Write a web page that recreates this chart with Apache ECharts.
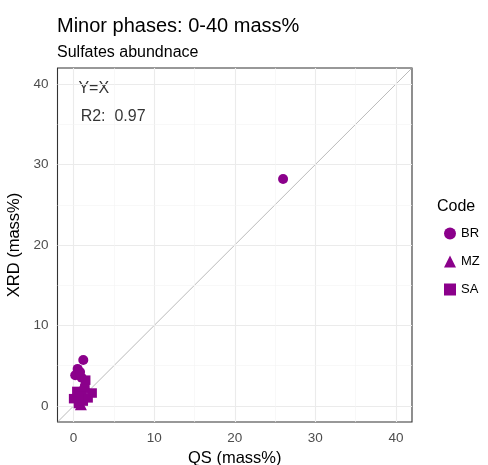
<!DOCTYPE html>
<html>
<head>
<meta charset="utf-8">
<script src="https://cdn.jsdelivr.net/npm/echarts@6/dist/echarts.min.js"></script>
<style>
  html, body { margin: 0; padding: 0; background: #ffffff; }
  #chart { width: 488px; height: 465px; }
</style>
</head>
<body>
<div id="chart"></div>
<script>
// Sulfate abundance, quantitative method (QS) vs XRD, both in mass%
const codes = ['BR', 'MZ', 'SA'];

const brQS  = [26.0, 1.2, 0.5, 0.2, 1.0, 0.8];
const brXRD = [28.2, 5.7, 4.6, 3.8, 3.5, 4.2];

const mzQS  = [1.3, 0.6, 0.9];
const mzXRD = [2.8, 1.6, 0.2];

const saQS  = [1.4, 2.3, 0.0, 0.6, 1.2, 0.4, 1.0, 1.8, 1.5];
const saXRD = [2.2, 1.6, 0.9, 0.3, 0.6, 1.8, 1.2, 1.0, 3.2];

const majorTicks = [0, 10, 20, 30, 40];
const minorTicks = [5, 15, 25, 35];
const identityLine = [-2, 42];

const fitLabel = 'Y=X';
const r2Label = 'R2:  0.97';

const purple = '#8B008B';
const font = '"Liberation Sans", Arial, sans-serif';

function pairs(xs, ys) { return xs.map((x, i) => [x, ys[i]]); }

const gridLines = [];
majorTicks.forEach(v => {
  gridLines.push({ xAxis: v, lineStyle: { color: '#EBEBEB', width: 1.1, type: 'solid' } });
  gridLines.push({ yAxis: v, lineStyle: { color: '#EBEBEB', width: 1.1, type: 'solid' } });
});
minorTicks.forEach(v => {
  gridLines.push({ xAxis: v, lineStyle: { color: '#F3F3F3', width: 0.6, type: 'solid' } });
  gridLines.push({ yAxis: v, lineStyle: { color: '#F3F3F3', width: 0.6, type: 'solid' } });
});

function valueAxis(name, gap, rot) {
  return {
    type: 'value',
    min: -2, max: 42,
    name: name,
    nameLocation: 'middle',
    nameGap: gap,
    nameRotate: rot,
    nameTextStyle: { fontFamily: font, fontSize: 16.5, color: '#000' },
    axisLine: { show: false },
    axisTick: { show: true, customValues: majorTicks, length: 4, lineStyle: { color: '#333333', width: 1 } },
    axisLabel: { customValues: majorTicks, fontFamily: font, fontSize: 13.5, color: '#4D4D4D', margin: 9 },
    splitLine: { show: false }
  };
}

const chart = echarts.init(document.getElementById('chart'), null, { renderer: 'canvas' });

chart.setOption({
  animation: false,
  backgroundColor: '#ffffff',
  title: [
    { text: 'Minor phases: 0-40 mass%', left: 57, top: 16, padding: 0,
      textStyle: { fontFamily: font, fontSize: 20, fontWeight: 'normal', color: '#000' } },
    { text: 'Sulfates abundnace', left: 57, top: 45, padding: 0,
      textStyle: { fontFamily: font, fontSize: 16, fontWeight: 'normal', color: '#000' } },
    { text: 'Code', left: 437, top: 199, padding: 0,
      textStyle: { fontFamily: font, fontSize: 16, fontWeight: 'normal', color: '#000' } }
  ],
  grid: {
    left: 57.5, right: 76, top: 68, bottom: 43,
    outerBoundsMode: 'none',
    show: true, borderColor: '#333333', borderWidth: 1.1, backgroundColor: '#ffffff'
  },
  legend: {
    data: codes,
    orient: 'vertical',
    left: 444, top: 227, padding: 0,
    itemWidth: 12, itemHeight: 12,
    itemGap: 15,
    textStyle: { fontFamily: font, fontSize: 13, color: '#000' }
  },
  xAxis: valueAxis('QS (mass%)', 24.5, 0),
  yAxis: valueAxis('XRD (mass%)', 29, 90),
  series: [
    {
      name: 'grid', type: 'line', data: [], silent: true, z: 1,
      markLine: { silent: true, symbol: 'none', label: { show: false }, animation: false, data: gridLines }
    },
    {
      name: 'identity', type: 'line', silent: true, z: 2,
      data: pairs(identityLine, identityLine),
      showSymbol: false, symbol: 'none',
      lineStyle: { color: '#A8A8A8', width: 0.8 }
    },
    {
      name: 'notes', type: 'scatter', silent: true, z: 3, symbolSize: 0,
      data: [
        { value: [2.5, 39.5], label: { formatter: fitLabel } },
        { value: [4.9, 36.0], label: { formatter: r2Label } }
      ],
      label: { show: true, position: 'inside', fontFamily: font, fontSize: 16, color: '#000' }
    },
    {
      name: 'BR', type: 'scatter', symbol: 'circle', symbolSize: 10, z: 5,
      itemStyle: { color: purple, opacity: 1 }, data: pairs(brQS, brXRD)
    },
    {
      name: 'MZ', type: 'scatter', symbol: 'triangle', symbolSize: 12, z: 5,
      itemStyle: { color: purple, opacity: 1 }, data: pairs(mzQS, mzXRD)
    },
    {
      name: 'SA', type: 'scatter', symbol: 'rect', symbolSize: 9.5, z: 5,
      itemStyle: { color: purple, opacity: 1 }, data: pairs(saQS, saXRD)
    }
  ]
});
</script>
</body>
</html>
